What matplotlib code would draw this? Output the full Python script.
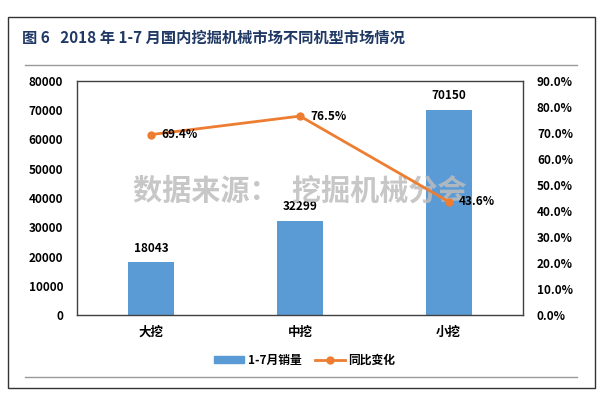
import matplotlib.pyplot as plt
from matplotlib.lines import Line2D
from matplotlib.patches import Rectangle, Patch

plt.rcParams['font.family'] = ['Noto Sans CJK SC', 'DejaVu Sans']

categories = ['大挖', '中挖', '小挖']
sales = [18043, 32299, 70150]
yoy = [69.4, 76.5, 43.6]

bar_color = '#5B9BD5'
line_color = '#ED7D31'

W, H = 610, 397
fig = plt.figure(figsize=(W / 100, H / 100), dpi=100)

def fx(px):
    return px / W

def fy(py):
    return 1 - py / H

# frame around the figure
fig.patches.append(Rectangle((fx(8), fy(388)), fx(595) - fx(8), fy(17) - fy(388),
                             transform=fig.transFigure, fill=False, ec='#333333', lw=1.0))
fig.lines.append(Line2D([fx(25), fx(577)], [fy(65), fy(65)], transform=fig.transFigure,
                        color='#999999', lw=1.0))
fig.lines.append(Line2D([fx(25), fx(577)], [fy(377), fy(377)], transform=fig.transFigure,
                        color='#999999', lw=1.0))

fig.text(fx(22), fy(38), '图 6   2018 年 1-7 月国内挖掘机械市场不同机型市场情况',
         fontsize=11, fontweight='bold', color='#1F3864', va='center', ha='left')

ax = fig.add_axes([fx(77), fy(315), fx(523) - fx(77), fy(81) - fy(315)])
x = list(range(len(categories)))
ax.bar(x, sales, width=0.31, color=bar_color, zorder=2)
ax.set_xlim(-0.5, 2.5)
ax.set_ylim(0, 80000)
ax.set_yticks(range(0, 80001, 10000))
ax.set_xticks(x)
ax.set_xticklabels(categories, fontsize=9, fontweight='bold')
for lbl in ax.get_yticklabels():
    lbl.set_fontweight('bold')
ax.tick_params(axis='y', length=0, labelsize=8.5, pad=10)
ax.tick_params(axis='x', length=0, pad=8)
for s in ax.spines.values():
    s.set_color('#404040')
    s.set_linewidth(1.0)

for xi, v in zip(x, sales):
    ax.text(xi, v + 2500, str(v), ha='center', va='bottom', fontsize=8.5, fontweight='bold')

ax2 = ax.twinx()
# watermark sits above the bars but under the line and its labels
ax2.text(0.5, 0.53, '数据来源：  挖掘机械分会', transform=ax2.transAxes, fontsize=21,
         fontweight='bold', color='#BDBDBD', alpha=0.85, ha='center', va='center', zorder=1)
ax2.plot(x, yoy, color=line_color, lw=2, marker='o', ms=5, zorder=3)
ax2.set_ylim(0, 90)
ax2.set_yticks(range(0, 91, 10))
ax2.set_yticklabels(['%.1f%%' % t for t in range(0, 91, 10)], fontweight='bold')
ax2.tick_params(axis='y', length=0, labelsize=8.5, pad=10)
for s in ax2.spines.values():
    s.set_visible(False)

for xi, v in zip(x, yoy):
    ax2.text(xi + 0.07, v, '%.1f%%' % v, ha='left', va='center', fontsize=8.5,
             fontweight='bold', zorder=4)

handles = [Patch(color=bar_color), Line2D([], [], color=line_color, lw=2, marker='o', ms=5)]
fig.legend(handles, ['1-7月销量', '同比变化'], loc='center', bbox_to_anchor=(fx(305), fy(360)),
           ncol=2, frameon=False, prop={'size': 8.5, 'weight': 'bold'},
           handlelength=2.5, handleheight=0.5, columnspacing=1.2, handletextpad=0.3)

fig.savefig('out.png', dpi=100)
